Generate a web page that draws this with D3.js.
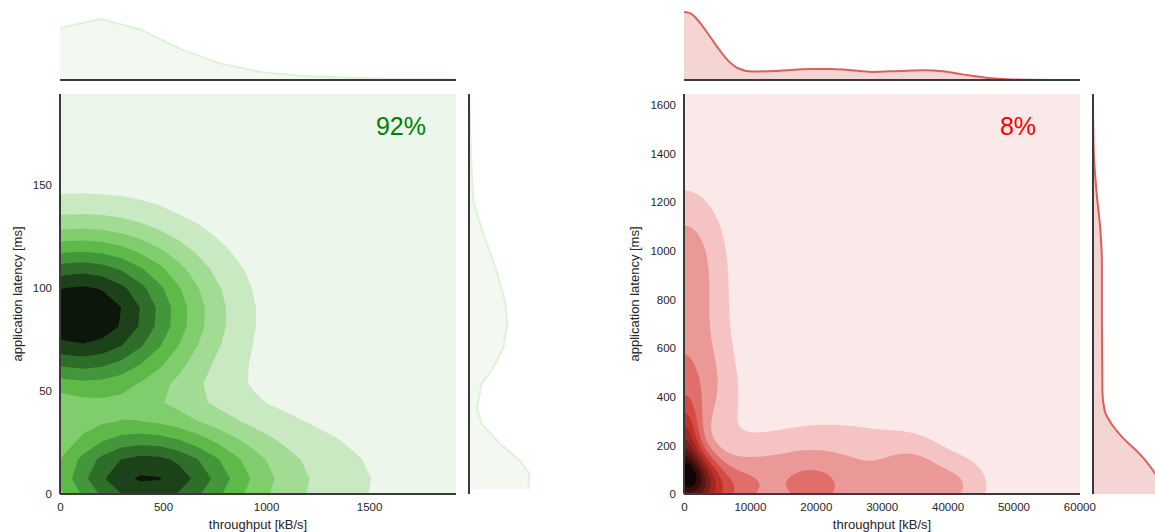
<!DOCTYPE html>
<html>
<head>
<meta charset="utf-8">
<script src="https://cdn.jsdelivr.net/npm/d3@7"></script>
<style>
  body { margin: 0; background: #fff; }
  text { font-family: "Liberation Sans", Arial, sans-serif; fill: #262626; }
</style>
</head>
<body>
<svg id="chart" width="1155" height="532"></svg>
<script>
// ---- data ----
const greenShare = "92%";
const redShare = "8%";

const greenXTicks = [0, 500, 1000, 1500];
const greenYTicks = [0, 50, 100, 150];
const redXTicks = [0, 10000, 20000, 30000, 40000, 50000, 60000];
const redYTicks = [0, 200, 400, 600, 800, 1000, 1200, 1400, 1600];

// clusters behind the 2d density: centre, spread (data units), weight
const greenClusters = [
  { x: 100, y: 87, sx: 405, sy: 28, w: 1.0 },
  { x: 390, y: 7.5, sx: 340, sy: 18, w: 0.7 },
  { x: 800, y: 5, sx: 560, sy: 25, w: 0.24 }
];
const redClusters = [
  { x: 500, y: 70, sx: 3000, sy: 85, w: 0.6 },
  { x: 3000, y: 0, sx: 5000, sy: 90, w: 0.3 },
  { x: 0, y: 220, sx: 1800, sy: 110, w: 0.38 },
  { x: 0, y: 400, sx: 5500, sy: 150, w: 0.18 },
  { x: 0, y: 630, sx: 5000, sy: 200, w: 0.15 },
  { x: 0, y: 983, sx: 4600, sy: 206, w: 0.2 },
  { x: 9500, y: 40, sx: 3500, sy: 110, w: 0.08 },
  { x: 19500, y: 15, sx: 3000, sy: 60, w: 0.11 },
  { x: 16000, y: 90, sx: 5000, sy: 110, w: 0.07 },
  { x: 24000, y: 60, sx: 10000, sy: 175, w: 0.19 },
  { x: 35000, y: 60, sx: 3500, sy: 110, w: 0.13 },
  { x: 42000, y: 30, sx: 3500, sy: 90, w: 0.13 }
];

// marginal densities, relative to their peak
const greenTopX = [0, 198, 393, 586, 777, 978, 1179, 1379, 1560, 1755, 1913];
const greenTopD = [0.853, 1, 0.825, 0.506, 0.269, 0.129, 0.067, 0.039, 0.022, 0.014, 0.011];
const greenSideY = [2.4, 10.3, 16, 24.3, 34, 41.7, 53.4, 61.2, 70.9, 82.5, 93.7, 108, 126, 142, 166.5, 193];
const greenSideD = [0.99, 1.0, 0.85, 0.52, 0.21, 0.13, 0.21, 0.405, 0.57, 0.64, 0.6, 0.46, 0.24, 0.07, 0.03, 0.005];
const redTopX = [0, 900, 1768, 3375, 4982, 6589, 8196, 10339, 14089, 19446, 22125, 24804, 28554, 32839, 36589, 39268, 42482, 46232, 48911, 52000, 56000];
const redTopD = [1.0, 0.985, 0.916, 0.718, 0.495, 0.297, 0.173, 0.124, 0.134, 0.163, 0.163, 0.149, 0.119, 0.134, 0.144, 0.129, 0.079, 0.030, 0.010, 0.003, 0];
const redSideY = [0, 20, 60, 107, 165, 230, 288, 342, 424, 700, 946, 1082, 1247, 1411, 1600];
const redSideD = [0.98, 1.0, 0.95, 0.85, 0.68, 0.44, 0.27, 0.17, 0.137, 0.13, 0.13, 0.108, 0.05, 0.01, 0];

// ---- styles ----
const greenColors = ["#edf6ea", "#c9e9c3", "#a2dc94", "#7fcd6c", "#5eb948", "#44963a", "#2f6e28", "#1c4219", "#0b170a"];
const redColors = ["#fbe9e9", "#f4c3c2", "#ea9996", "#e06f6b", "#d44b44", "#bf3129", "#9e2721", "#7c1f1a", "#591613", "#370d0b", "#140303"];

const svg = d3.select("#chart");
const spine = "#3a3a3a";

const panels = [
  {
    id: "g", left: 60, xMax: 1922, yMax: 194, xTicks: greenXTicks, yTicks: greenYTicks,
    clusters: greenClusters, colors: greenColors, cell: 19, anchor: [390, 7.5], labelOffset: 43,
    topX: greenTopX, topD: greenTopD, topMax: 1.18, sideY: greenSideY, sideD: greenSideD, sideMax: 1.2,
    line: "#dff1da", fill: "#f3f9f1", curve: d3.curveLinear,
    share: greenShare, shareColor: "#008000", shareX: 401
  },
  {
    id: "r", left: 684, xMax: 60100, yMax: 1645, xTicks: redXTicks, yTicks: redYTicks,
    clusters: redClusters, colors: redColors, cell: 3, anchor: [0, 0], labelOffset: 50,
    topX: redTopX, topD: redTopD, topMax: 1.06, sideY: redSideY, sideD: redSideD, sideMax: 1.05,
    line: "#dc5f5a", fill: "#f5d5d4", curve: d3.curveMonotoneX, sideCurve: d3.curveMonotoneY,
    share: redShare, shareColor: "#ff0000", shareX: 1018
  }
];

const plotTop = 94, plotBottom = 494, size = 396, margAxis = 80, margSize = 72, gap = 13;

function density(clusters, dx, dy) {
  let v = 0;
  for (const c of clusters) {
    v += c.w * Math.exp(-((dx - c.x) ** 2) / (2 * c.sx * c.sx) - ((dy - c.y) ** 2) / (2 * c.sy * c.sy));
  }
  return v;
}

panels.forEach(p => {
  const right = p.left + size;
  const x = d3.scaleLinear().domain([0, p.xMax]).range([p.left, right]);
  const y = d3.scaleLinear().domain([0, p.yMax]).range([plotBottom, plotTop]);

  // clip for the joint area
  svg.append("clipPath").attr("id", "clip-" + p.id)
    .append("rect").attr("x", p.left).attr("y", plotTop).attr("width", size).attr("height", plotBottom - plotTop);

  const joint = svg.append("g").attr("clip-path", `url(#clip-${p.id})`);

  // grid of density values, aligned on the anchor point
  const cell = p.cell;
  const ax = x(p.anchor[0]), ay = y(p.anchor[1]);
  const ox = ax - Math.ceil((ax - p.left) / cell + 2) * cell;
  const oy = ay - Math.ceil((ay - plotTop) / cell + 2) * cell;
  const nx = Math.ceil((right + 2 * cell - ox) / cell) + 1;
  const ny = Math.ceil((plotBottom + 2 * cell - oy) / cell) + 1;
  const values = new Float64Array(nx * ny);
  for (let j = 0; j < ny; j++) {
    for (let i = 0; i < nx; i++) {
      values[j * nx + i] = density(p.clusters, x.invert(ox + i * cell), y.invert(oy + j * cell));
    }
  }
  const max = d3.max(values);
  const n = p.colors.length;
  const thresholds = d3.range(1, n).map(k => k * max / n);
  const contours = d3.contours().size([nx, ny]).thresholds(thresholds)(values);
  const path = d3.geoPath(d3.geoIdentity().scale(cell).translate([ox - cell / 2, oy - cell / 2]));

  joint.append("rect")
    .attr("x", p.left).attr("y", plotTop).attr("width", size).attr("height", plotBottom - plotTop)
    .attr("fill", p.colors[0]);

  joint.selectAll("path")
    .data(contours)
    .join("path")
    .attr("d", path)
    .attr("fill", (d, i) => p.colors[i + 1]);

  // percentage label
  svg.append("text")
    .attr("x", p.shareX).attr("y", 135)
    .attr("text-anchor", "middle")
    .style("font-size", "25px")
    .style("fill", p.shareColor)
    .text(p.share);

  // axes (labels only, seaborn white style has no tick marks)
  const xAxis = svg.append("g").attr("transform", `translate(0,${plotBottom})`)
    .call(d3.axisBottom(x).tickValues(p.xTicks).tickSize(0).tickPadding(9).tickFormat(d3.format("d")));
  const yAxis = svg.append("g").attr("transform", `translate(${p.left},0)`)
    .call(d3.axisLeft(y).tickValues(p.yTicks).tickSize(0).tickPadding(8).tickFormat(d3.format("d")));
  [xAxis, yAxis].forEach(a => {
    a.select(".domain").remove();
    a.selectAll("text").style("font-size", "11.5px").attr("fill", "#262626")
      .style("font-family", '"Liberation Sans", Arial, sans-serif');
  });

  svg.append("text")
    .attr("x", p.left + size / 2).attr("y", 529)
    .attr("text-anchor", "middle")
    .style("font-size", "13px")
    .text("throughput [kB/s]");
  svg.append("text")
    .attr("transform", `translate(${p.left - p.labelOffset},294) rotate(-90)`)
    .attr("text-anchor", "middle")
    .attr("dy", "0.35em")
    .style("font-size", "13px")
    .text("application latency [ms]");

  // top marginal
  const ty = d3.scaleLinear().domain([0, p.topMax]).range([margAxis, margAxis - margSize]);
  const topData = d3.zip(p.topX, p.topD);
  svg.append("path").datum(topData)
    .attr("fill", p.fill)
    .attr("d", d3.area().curve(p.curve).x(d => x(d[0])).y0(margAxis).y1(d => ty(d[1])));
  svg.append("path").datum(topData)
    .attr("fill", "none").attr("stroke", p.line).attr("stroke-width", 2)
    .attr("d", d3.line().curve(p.curve).x(d => x(d[0])).y(d => ty(d[1])));

  // side marginal
  const sideLeft = right + gap;
  const sx = d3.scaleLinear().domain([0, p.sideMax]).range([sideLeft, sideLeft + margSize]);
  const sideData = d3.zip(p.sideY, p.sideD);
  const sideCurve = p.sideCurve || p.curve;
  svg.append("path").datum(sideData)
    .attr("fill", p.fill)
    .attr("d", d3.area().curve(sideCurve).y(d => y(d[0])).x0(sideLeft).x1(d => sx(d[1])));
  svg.append("path").datum(sideData)
    .attr("fill", "none").attr("stroke", p.line).attr("stroke-width", 2)
    .attr("d", d3.line().curve(sideCurve).y(d => y(d[0])).x(d => sx(d[1])));

  // spines
  const spines = [
    [p.left, plotTop, p.left, plotBottom],
    [p.left, plotBottom, right, plotBottom],
    [p.left, margAxis, right, margAxis],
    [sideLeft, plotTop, sideLeft, plotBottom]
  ];
  svg.selectAll(null).data(spines).join("line")
    .attr("x1", d => d[0]).attr("y1", d => d[1]).attr("x2", d => d[2]).attr("y2", d => d[3])
    .attr("stroke", spine).attr("stroke-width", 2);
});
</script>
</body>
</html>
